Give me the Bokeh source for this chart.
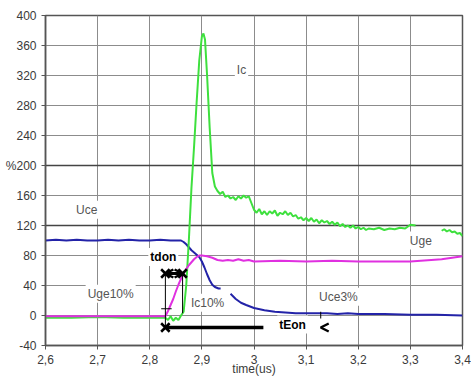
from bokeh.plotting import figure
from bokeh.models import (FixedTicker, CustomJSTickFormatter, Label, Arrow, OpenHead,
                          Span, Range1d)
from bokeh.embed import file_html
from bokeh.resources import INLINE

nan = float("nan")

# ---- data ----
x_ticks = [2.6, 2.7, 2.8, 2.9, 3.0, 3.1, 3.2, 3.3, 3.4]
y_ticks = [-40, 0, 40, 80, 120, 160, 200, 240, 280, 320, 360, 400]

ic_t = [2.60, 2.65, 2.70, 2.75, 2.80, 2.83, 2.835, 2.84, 2.845, 2.85, 2.855, 2.86,
        2.865, 2.87, 2.875, 2.88, 2.885, 2.89, 2.895, 2.90, 2.903, 2.906, 2.91, 2.915,
        2.92, 2.925, 2.93, 2.935, 2.94, 2.945, 2.95, 2.955, 2.96, 2.965, 2.97, 2.975,
        2.98, 2.985, 2.99, 2.995, 3.0, 3.005, 3.01, 3.015, 3.02, 3.025, 3.03, 3.035,
        3.04, 3.045, 3.05, 3.055, 3.06, 3.065, 3.07, 3.075, 3.08, 3.085, 3.09, 3.095,
        3.10, 3.105, 3.11, 3.115, 3.12, 3.125, 3.13, 3.135, 3.14, 3.145, 3.15, 3.155,
        3.16, 3.165, 3.17, 3.175, 3.18, 3.185, 3.19, 3.195, 3.20, 3.205, 3.21, 3.215,
        3.22, 3.23, 3.24, 3.25, 3.26, 3.27, 3.28, 3.29, 3.30, 3.31, 3.32, 3.36,
        3.365, 3.37, 3.375, 3.38, 3.385, 3.39, 3.395, 3.40]
ic_v = [-3, -3, -2, -3, -3, -3, -6, -1, -7, -3, -6, 0,
        5, 40, 100, 170, 225, 285, 340, 372, 376, 368, 320, 250,
        190, 172, 166, 162, 165, 158, 160, 156, 158, 154, 159, 156,
        160, 157, 159, 150, 141, 137, 142, 135, 139, 134, 139, 136,
        140, 133, 137, 135, 139, 134, 137, 132, 134, 129, 131, 127,
        130, 126, 130, 125, 128, 123, 127, 124, 126, 122, 125, 121,
        124, 119, 122, 118, 120, 117, 120, 116, 118, 115, 117, 114,
        116, 115, 117, 114, 116, 115, 117, 116, 121, 120, nan, 113,
        115, 112, 114, 111, 112, 109, 110, 106]

uce_t = [2.60, 2.62, 2.64, 2.66, 2.68, 2.70, 2.72, 2.74, 2.76, 2.78, 2.80, 2.82,
         2.84, 2.85, 2.86, 2.865, 2.87, 2.875, 2.88, 2.885, 2.89, 2.895, 2.90, 2.905,
         2.91, 2.915, 2.92, 2.925, 2.932, 2.936, 2.945, 2.955, 2.965, 2.975, 2.985,
         3.00, 3.02, 3.04, 3.06, 3.08, 3.10, 3.12, 3.14, 3.16, 3.18, 3.20, 3.25,
         3.30, 3.35, 3.40]
uce_v = [100, 101, 100, 101, 100, 100, 101, 100, 101, 100, 100, 101,
         100, 100, 100, 98, 95, 91, 87, 84, 81, 78, 72, 64,
         55, 47, 41, 38, 36, 36, nan, 29, 22, 17, 14,
         10, 7, 5, 4, 3, 3, 3, 3, 2, 3, 2, 2,
         1, 1, 0]

uge_t = [2.60, 2.65, 2.70, 2.75, 2.80, 2.83, 2.835, 2.84, 2.845, 2.85, 2.855, 2.86,
         2.865, 2.87, 2.875, 2.88, 2.885, 2.89, 2.895, 2.90, 2.91, 2.92, 2.93, 2.94,
         2.95, 2.96, 2.97, 2.98, 2.99, 3.00, 3.05, 3.10, 3.15, 3.20, 3.25, 3.30,
         3.32, 3.34, 3.36, 3.38, 3.40]
uge_v = [-1, -1, -1, -1, -1, -1, 6, 14, 22, 32, 41, 49,
         56, 62, 67, 71, 75, 78, 80, 80, 79, 77, 74, 73,
         74, 73, 75, 73, 74, 72, 73, 72, 73, 72, 72, 72,
         73, 74, 75, 77, 79]

# annotation positions (data coordinates)
t_ug10 = 2.83
t_ic10 = 2.863
t_uce3 = 3.128
t_eon_line_end = 3.018
y_tdon = 56
y_teon = -16

labels = [  # text, x, y, bold
    ("Ic", 2.976, 327, False),
    ("Uce", 2.679, 141, False),
    ("tdon", 2.826, 78, True),
    ("Uge10%", 2.725, 29, False),
    ("Ic10%", 2.911, 17, False),
    ("Uce3%", 3.162, 25, False),
    ("tEon", 3.074, -12, True),
    ("Uge", 3.32, 100, False),
]

FONT = "Liberation Sans"

p = figure(width=471, height=381, output_backend="svg", toolbar_location=None,
           x_range=Range1d(2.6, 3.4), y_range=Range1d(-40, 400),
           min_border_left=45, min_border_right=9, min_border_top=15,
           min_border_bottom=36, background_fill_color="white",
           border_fill_color="white")

p.outline_line_color = "#555555"
p.outline_line_width = 1.5

for ax in (p.xaxis[0], p.yaxis[0]):
    ax.axis_line_color = "#555555"
    ax.axis_line_width = 1.5
    ax.major_tick_line_color = "#555555"
    ax.major_tick_out = 4
    ax.major_tick_in = 0
    ax.minor_tick_line_color = None
    ax.major_label_text_font = FONT
    ax.major_label_text_font_size = "12px"
    ax.major_label_text_color = "#3a3a3a"
    ax.major_label_standoff = 5

p.xaxis[0].ticker = FixedTicker(ticks=x_ticks)
p.yaxis[0].ticker = FixedTicker(ticks=y_ticks)
p.xaxis[0].formatter = CustomJSTickFormatter(
    code="return Math.abs(tick-3) < 1e-9 ? '3' : tick.toFixed(1).replace('.', ',');")
p.yaxis[0].formatter = CustomJSTickFormatter(
    code="return tick == 200 ? '%200' : String(tick);")
p.xaxis[0].axis_label = "time(us)"
p.xaxis[0].axis_label_text_font = FONT
p.xaxis[0].axis_label_text_font_size = "12px"
p.xaxis[0].axis_label_text_font_style = "normal"
p.xaxis[0].axis_label_text_color = "#3a3a3a"
p.xaxis[0].axis_label_standoff = -5

p.xgrid.grid_line_color = "#8c8c8c"
p.ygrid.grid_line_color = "#8c8c8c"
p.xgrid.grid_line_width = 1
p.ygrid.grid_line_width = 1

for yv in (120, 200):
    p.add_layout(Span(location=yv, dimension="width", line_color="#444444",
                      line_width=1.3, level="underlay"))

p.line(uce_t, uce_v, line_color="#2323a8", line_width=2)
p.line(ic_t, ic_v, line_color="#3ee03e", line_width=2)
p.line(uge_t, uge_v, line_color="#e030e0", line_width=2)

# measurement markers
p.segment(x0=[t_ug10, t_ic10, t_ug10 - 0.008, t_uce3],
          y0=[y_teon, y_tdon, 9, 5],
          x1=[t_ug10, t_ic10, t_ug10 + 0.012, t_uce3],
          y1=[y_tdon, 3, 9, -4], line_color="black", line_width=1)
p.segment(x0=[t_ug10], y0=[y_teon], x1=[t_eon_line_end], y1=[y_teon],
          line_color="black", line_width=3.5)
p.add_layout(Arrow(x_start=t_ug10, y_start=y_tdon, x_end=t_ic10, y_end=y_tdon,
                   line_width=3, line_color="black",
                   start=OpenHead(size=8, line_width=2.5, line_color="black"),
                   end=OpenHead(size=8, line_width=2.5, line_color="black")))
p.add_layout(Arrow(x_start=t_uce3 + 0.01, y_start=y_teon, x_end=t_uce3, y_end=y_teon,
                   line_alpha=0,
                   end=OpenHead(size=8, line_width=2.5, line_color="black")))
p.scatter([t_ug10, t_ic10, t_ug10], [y_tdon, y_tdon, y_teon], marker="x",
          size=12, line_width=2.5, line_color="black")

for txt, lx, ly, bold in labels:
    p.add_layout(Label(x=lx, y=ly, text=txt, text_font=FONT, text_font_size="12px",
                       text_font_style="bold" if bold else "normal",
                       text_color="black" if bold else "#555555",
                       text_align="center", text_baseline="middle",
                       background_fill_color="white", background_fill_alpha=1.0,
                       padding=2))

open("out.html", "w").write(file_html(p, INLINE))
